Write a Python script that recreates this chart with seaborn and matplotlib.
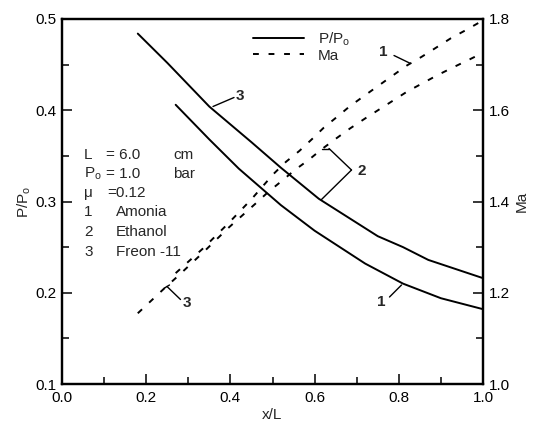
import numpy as np
import pandas as pd
import matplotlib
matplotlib.use("Agg")
import matplotlib.pyplot as plt
from matplotlib.lines import Line2D
from matplotlib.ticker import MultipleLocator
import seaborn as sns

# ---- data ----
x_P_freon = [0.18, 0.25, 0.35, 0.45, 0.52, 0.61, 0.75, 0.81, 0.87, 1.0]
P_freon = [0.484, 0.452, 0.404, 0.365, 0.337, 0.303, 0.262, 0.250, 0.236, 0.216]

x_P_amonia = [0.27, 0.35, 0.42, 0.52, 0.60, 0.72, 0.81, 0.90, 1.0]
P_amonia = [0.406, 0.368, 0.336, 0.296, 0.268, 0.232, 0.210, 0.194, 0.182]

x_Ma_freon = [0.18, 0.217, 0.247, 0.276, 0.336, 0.395, 0.458, 0.49, 0.522, 0.553,
              0.587, 0.619, 0.651, 0.684, 0.72, 0.82, 0.856, 0.892, 0.929, 0.965, 1.0]
Ma_freon = [1.155, 1.187, 1.213, 1.237, 1.289, 1.342, 1.394, 1.421, 1.445, 1.469,
            1.492, 1.516, 1.538, 1.560, 1.582, 1.641, 1.659, 1.677, 1.694, 1.710, 1.726]

x_Ma_amonia = [0.27, 0.336, 0.395, 0.45, 0.502, 0.532, 0.564, 0.593, 0.622, 0.654,
               0.684, 0.72, 0.819, 0.854, 0.89, 0.924, 0.96, 1.0]
Ma_amonia = [1.243, 1.298, 1.352, 1.405, 1.46, 1.487, 1.511, 1.536, 1.562, 1.586,
             1.609, 1.633, 1.698, 1.717, 1.738, 1.758, 1.776, 1.797]

x_ticks = [0.0, 0.2, 0.4, 0.6, 0.8, 1.0]
P_ticks = [0.1, 0.2, 0.3, 0.4, 0.5]
Ma_ticks = [1.0, 1.2, 1.4, 1.6, 1.8]

info_left = ["L", "P$_o$", "\u03bc", "1", "2", "3"]
info_mid = ["= 6.0", "= 1.0", "=0.12"]
info_unit = ["cm", "bar"]
info_names = ["Amonia", "Ethanol", "Freon -11"]

# ---- style ----
sns.set_style("ticks")
plt.rcParams["font.family"] = ["Liberation Sans", "DejaVu Sans"]
plt.rcParams["mathtext.default"] = "regular"

FS = 11

fig = plt.figure(figsize=(5.36, 4.29), dpi=100)
ax = fig.add_axes([62 / 536, 1 - 384 / 429, (483 - 62) / 536, (384 - 19) / 429])
ax2 = ax.twinx()

lw = 1.4
dash = (0, (3, 5))

dfP1 = pd.DataFrame({"x": x_P_freon, "y": P_freon})
dfP2 = pd.DataFrame({"x": x_P_amonia, "y": P_amonia})
dfM1 = pd.DataFrame({"x": x_Ma_freon, "y": Ma_freon})
dfM2 = pd.DataFrame({"x": x_Ma_amonia, "y": Ma_amonia})

sns.lineplot(data=dfP1, x="x", y="y", ax=ax, color="black", lw=lw)
sns.lineplot(data=dfP2, x="x", y="y", ax=ax, color="black", lw=lw)
sns.lineplot(data=dfM1, x="x", y="y", ax=ax2, color="black", lw=lw, linestyle=dash)
sns.lineplot(data=dfM2, x="x", y="y", ax=ax2, color="black", lw=lw, linestyle=dash)

ax.set_xlim(0.0, 1.0)
ax.set_ylim(0.1, 0.5)
ax2.set_ylim(1.0, 1.8)

ax.set_xticks(x_ticks)
ax.set_xticklabels([f"{v:.1f}" for v in x_ticks])
ax.set_yticks(P_ticks)
ax.set_yticklabels([f"{v:.1f}" for v in P_ticks])
ax2.set_yticks(Ma_ticks)
ax2.set_yticklabels([f"{v:.1f}" for v in Ma_ticks])
ax.xaxis.set_minor_locator(MultipleLocator(0.1))
ax.yaxis.set_minor_locator(MultipleLocator(0.05))
ax2.yaxis.set_minor_locator(MultipleLocator(0.1))

for a in (ax, ax2):
    a.tick_params(which="major", direction="in", length=7.5, width=1.1, labelsize=FS,
                  color="black", labelcolor="black", pad=4)
    a.tick_params(which="minor", direction="in", length=5, width=1.1, color="black")
    for s in a.spines.values():
        s.set_linewidth(1.6)
        s.set_color("black")
        s.set_visible(True)
ax.tick_params(axis="x", pad=5)

ax.set_xlabel("x/L", fontsize=FS, labelpad=2)
ax.set_ylabel("P/P$_o$", fontsize=FS, labelpad=2)
ax2.set_ylabel("Ma", fontsize=FS, labelpad=4)

# legend
handles = [Line2D([], [], color="black", lw=lw),
           Line2D([], [], color="black", lw=lw, linestyle=dash)]
ax.legend(handles, ["P/P$_o$", "Ma"], loc="upper left",
          bbox_to_anchor=((242 - 62) / 421, 1.0), frameon=False, fontsize=FS,
          handlelength=3.3, handletextpad=0.9, labelspacing=0.05, borderaxespad=0.35)

# info block
def px2d(px, py):
    return (px - 62) / 421, 0.5 - (py - 19) / 912.5

rows_y = [155, 174, 193, 211.5, 231.5, 251.5]
for lab, py in zip(info_left, rows_y):
    xx, yy = px2d(84, py)
    ax.text(xx, yy, lab, fontsize=FS, va="center", ha="left")
for lab, py, px in zip(info_mid, rows_y[:3], [106, 106, 107]):
    xx, yy = px2d(px, py)
    ax.text(xx, yy, lab, fontsize=FS, va="center", ha="left")
for lab, py in zip(info_unit, rows_y[:2]):
    xx, yy = px2d(173, py)
    ax.text(xx, yy, lab, fontsize=FS, va="center", ha="left")
for lab, py in zip(info_names, rows_y[3:]):
    xx, yy = px2d(116, py)
    ax.text(xx, yy, lab, fontsize=FS, va="center", ha="left")

# curve labels with leader lines
def leader(p0, p1, **kw):
    a0 = px2d(*p0)
    a1 = px2d(*p1)
    ax.plot([a0[0], a1[0]], [a0[1], a1[1]], color="black", lw=1.0, **kw)

def label(txt, p):
    xx, yy = px2d(*p)
    ax.text(xx, yy, txt, fontsize=FS, fontweight="bold", va="center", ha="left")

leader((213, 106.5), (234, 97.5))
label("3", (236, 96))

leader((321.5, 148.5), (329, 148.5))
leader((329, 148.5), (351.5, 170))
leader((321.5, 199.5), (351.5, 170))
label("2", (358, 171))

leader((394, 55.5), (409.5, 63))
label("1", (379, 51.5))

leader((389.5, 297), (401.5, 285))
label("1", (377, 302))

leader((167, 286.5), (180.5, 299.5))
leader((164.5, 288), (169.5, 285))
label("3", (183, 303))

fig.savefig("out.png", dpi=100)
